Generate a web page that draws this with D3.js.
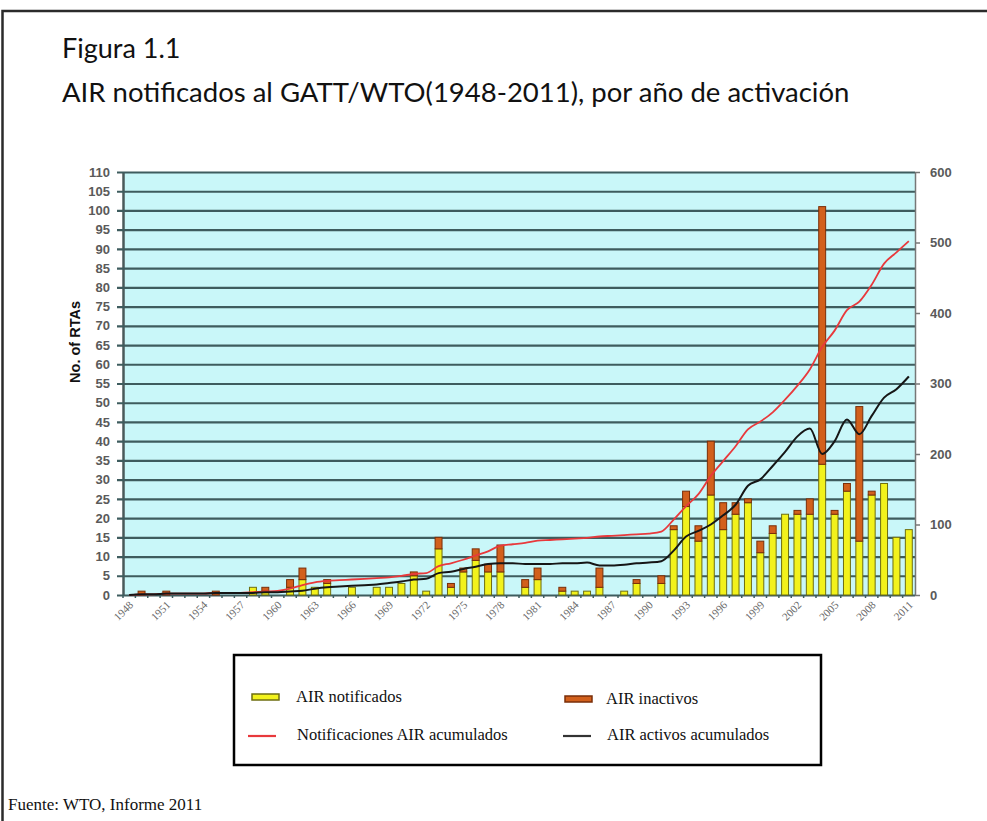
<!DOCTYPE html>
<html>
<head>
<meta charset="utf-8">
<script src="https://cdn.jsdelivr.net/npm/d3@7"></script>
<style>
    body { margin: 0; background: #fff; }
    svg { display: block; }
</style>
</head>
<body>
<div id="fig"></div>
<script>
// RTAs notified to GATT/WTO 1948-2011, bars + 2 cumulative lines

// categories (years of entry into force)
const years = [1948, 1949, 1950, 1951, 1952, 1953, 1954, 1955, 1956, 1957,
    1958, 1959, 1960, 1961, 1962, 1963, 1964, 1965, 1966, 1967,
    1968, 1969, 1970, 1971, 1972, 1973, 1974, 1975, 1976, 1977,
    1978, 1979, 1980, 1981, 1982, 1983, 1984, 1985, 1986, 1987,
    1988, 1989, 1990, 1991, 1992, 1993, 1994, 1995, 1996, 1997,
    1998, 1999, 2000, 2001, 2002, 2003, 2004, 2005, 2006, 2007,
    2008, 2009, 2010, 2011];

// yellow part of each bar (AIR notificados)
const notificados = [0, 0, 0, 0, 0, 0, 0, 0, 0, 0,
    2, 1, 0, 2, 4, 2, 3, 0, 2, 0,
    2, 2, 3, 5, 1, 12, 2, 6, 9, 6,
    6, 0, 2, 4, 0, 1, 1, 1, 2, 0,
    1, 3, 0, 3, 17, 23, 14, 26, 17, 21,
    24, 11, 16, 21, 21, 21, 34, 21, 27, 14,
    26, 29, 15, 17];

// orange part stacked on top (AIR inactivos)
const inactivos = [0, 1, 0, 1, 0, 0, 0, 1, 0, 0,
    0, 1, 0, 2, 3, 0, 1, 0, 0, 0,
    0, 0, 0, 1, 0, 3, 1, 1, 3, 2,
    7, 0, 2, 3, 0, 1, 0, 0, 5, 0,
    0, 1, 0, 2, 1, 4, 4, 14, 7, 3,
    1, 3, 2, 0, 1, 4, 67, 1, 2, 35,
    1, 0, 0, 0];

// red line, right axis (Notificaciones AIR acumulados)
const acumulados = [0, 1, 1, 2, 2, 2, 2, 3, 3, 3,
    4, 5, 6, 9, 14, 18, 20, 21, 22, 23,
    24, 25, 27, 30, 31, 41, 45, 50, 56, 62,
    70, 72, 74, 77, 78, 79, 80, 81, 83, 84,
    85, 86, 87, 90, 107, 126, 143, 169, 190, 211,
    235, 246, 259, 277, 297, 320, 352, 375, 404, 416,
    440, 470, 486, 502];

// black line, right axis (AIR activos acumulados)
const activos = [0, 1, 1, 2, 2, 2, 2, 3, 3, 3,
    3, 4, 4, 5, 6, 9, 11, 12, 13, 14,
    15, 17, 19, 22, 23, 31, 33, 37, 40, 44,
    45, 45, 44, 44, 44, 45, 45, 46, 42, 42,
    43, 45, 46, 48, 63, 83, 91, 100, 113, 128,
    155, 164, 183, 203, 225, 236, 200, 218, 249, 228,
    254, 280, 292, 310];

// tick labels
const xTickYears = [1948, 1951, 1954, 1957, 1960, 1963, 1966, 1969, 1972, 1975,
    1978, 1981, 1984, 1987, 1990, 1993, 1996, 1999, 2002, 2005, 2008, 2011];
const leftTicks = [0, 5, 10, 15, 20, 25, 30, 35, 40, 45, 50, 55,
    60, 65, 70, 75, 80, 85, 90, 95, 100, 105, 110];
const rightTicks = [0, 100, 200, 300, 400, 500, 600];

const legendItems = [
    { label: "AIR notificados", kind: "bar", color: "#f2f21c", edge: "#6e6e10" },
    { label: "AIR inactivos", kind: "bar", color: "#d2601c", edge: "#7a2e08" },
    { label: "Notificaciones AIR acumulados", kind: "line", color: "#e8393c" },
    { label: "AIR activos acumulados", kind: "line", color: "#333" }
];

let svgWidth = 987;
let svgHeight = 821;
// plot box (pixels)
let plotLeft = 123, plotRight = 915, plotTop = 172, plotBottom = 595;

let svg = d3.select("#fig")
    .append("svg")
    .attr("width", svgWidth)
    .attr("height", svgHeight);

// slide frame, only left + top edges show
svg.append("path")
    .attr("d", `M2.5,${svgHeight} L2.5,11 L${svgWidth},11`)
    .attr("fill", "none")
    .attr("stroke", "#2b2b2b")
    .attr("stroke-width", 2.5);

// titles (Calibri in the original, Lato is the closest we have)
svg.append("text")
    .attr("x", 62)
    .attr("y", 58)
    .style("font-family", "Lato, 'Open Sans', sans-serif")
    .style("font-size", "27px")
    .attr("fill", "#111")
    .text("Figura 1.1");
svg.append("text")
    .attr("x", 62)
    .attr("y", 102)
    .style("font-family", "Lato, 'Open Sans', sans-serif")
    .style("font-size", "27.5px")
    .attr("fill", "#111")
    .text("AIR notificados al GATT/WTO(1948-2011), por año de activación");

// scales
let x = d3.scaleBand()
    .domain(years)
    .range([plotLeft, plotRight])
    .paddingInner(0.44)
    .paddingOuter(0.22);
let yLeft = d3.scaleLinear().domain([0, 110]).range([plotBottom, plotTop]);
let yRight = d3.scaleLinear().domain([0, 600]).range([plotBottom, plotTop]);
let bw = x.bandwidth();
let cx = (yr) => x(yr) + bw / 2;

// cyan background
svg.append("rect")
    .attr("x", plotLeft)
    .attr("y", plotTop)
    .attr("width", plotRight - plotLeft)
    .attr("height", plotBottom - plotTop)
    .attr("fill", "#c9f7f9");

// left axis with the ticks stretched into gridlines
let leftAxis = d3.axisLeft(yLeft)
    .tickValues(leftTicks)
    .tickSizeInner(-(plotRight - plotLeft))
    .tickSizeOuter(0)
    .tickPadding(13);
let gLeft = svg.append("g")
    .attr("transform", `translate(${plotLeft},0)`)
    .call(leftAxis);
gLeft.select(".domain")
    .attr("stroke", "#4a5a5a")
    .attr("stroke-width", 2.5);
gLeft.selectAll(".tick line")
    .attr("x1", -6)
    .attr("stroke", "#3e5c5e")
    .attr("stroke-width", 2.2);
gLeft.selectAll(".tick text")
    .style("font-family", "'Liberation Sans', Arial, sans-serif")
    .style("font-size", "13px")
    .style("font-weight", "bold")
    .attr("fill", "#5a5a5a");

// right axis
let rightAxis = d3.axisRight(yRight)
    .tickValues(rightTicks)
    .tickSizeInner(5)
    .tickSizeOuter(0)
    .tickPadding(10);
let gRight = svg.append("g")
    .attr("transform", `translate(${plotRight},0)`)
    .call(rightAxis);
gRight.select(".domain").attr("stroke", "#777").attr("stroke-width", 1.5);
gRight.selectAll(".tick line").attr("stroke", "#777").attr("stroke-width", 1.5);
gRight.selectAll(".tick text")
    .style("font-family", "'Liberation Sans', Arial, sans-serif")
    .style("font-size", "13px")
    .style("font-weight", "bold")
    .attr("fill", "#5a5a5a");

// y title
svg.append("text")
    .attr("transform", `translate(80, 342) rotate(-90)`)
    .attr("text-anchor", "middle")
    .style("font-family", "'Liberation Sans', Arial, sans-serif")
    .style("font-size", "14.5px")
    .style("font-weight", "bold")
    .attr("fill", "#111")
    .text("No. of RTAs");

// x axis: little ticks between bars, labels every 3 years
let xAxis = d3.axisBottom(x)
    .tickValues(xTickYears)
    .tickSize(0)
    .tickPadding(6);
let gX = svg.append("g")
    .attr("transform", `translate(0,${plotBottom})`)
    .call(xAxis);
gX.select(".domain").remove();
gX.selectAll(".tick text")
    .attr("text-anchor", "end")
    .attr("x", 0)
    .attr("y", 0)
    .attr("dy", "0.35em")
    .attr("transform", "translate(2,8) rotate(-45)")
    .style("font-family", "'Liberation Serif', 'Times New Roman', serif")
    .style("font-size", "11px")
    .attr("fill", "#666");
svg.append("g")
    .selectAll("line")
    .data(years)
    .enter()
    .append("line")
    .attr("x1", (d) => x(d) - x.step() * 0.22)
    .attr("x2", (d) => x(d) - x.step() * 0.22)
    .attr("y1", plotBottom)
    .attr("y2", plotBottom + 3)
    .attr("stroke", "#3e5c5e")
    .attr("stroke-width", 1.5);

// bars - yellow first, orange stacked on top
let barData = years.map((yr, i) => ({ yr: yr, a: notificados[i], b: inactivos[i] }));

svg.append("g")
    .selectAll("rect")
    .data(barData.filter((d) => d.a > 0))
    .enter()
    .append("rect")
    .attr("x", (d) => x(d.yr))
    .attr("y", (d) => yLeft(d.a))
    .attr("width", bw)
    .attr("height", (d) => yLeft(0) - yLeft(d.a))
    .attr("fill", "#f2f21c")
    .attr("stroke", "#6e6e10")
    .attr("stroke-width", 1);

svg.append("g")
    .selectAll("rect")
    .data(barData.filter((d) => d.b > 0))
    .enter()
    .append("rect")
    .attr("x", (d) => x(d.yr))
    .attr("y", (d) => yLeft(d.a + d.b))
    .attr("width", bw)
    .attr("height", (d) => yLeft(d.a) - yLeft(d.a + d.b))
    .attr("fill", "#d2601c")
    .attr("stroke", "#7a2e08")
    .attr("stroke-width", 1);

// cumulative lines on the right scale
let cumLine = d3.line()
    .x((d, i) => cx(years[i]))
    .y((d) => yRight(d))
    .curve(d3.curveMonotoneX);

svg.append("path")
    .datum(acumulados)
    .attr("d", cumLine)
    .attr("fill", "none")
    .attr("stroke", "#e8393c")
    .attr("stroke-width", 1.8);

svg.append("path")
    .datum(activos)
    .attr("d", cumLine)
    .attr("fill", "none")
    .attr("stroke", "#161616")
    .attr("stroke-width", 2);

// legend box
svg.append("rect")
    .attr("x", 234)
    .attr("y", 655)
    .attr("width", 587)
    .attr("height", 110)
    .attr("fill", "#fff")
    .attr("stroke", "#000")
    .attr("stroke-width", 2.5);

let legendPos = [
    { sx: 252, tx: 296, ty: 702 },
    { sx: 565, tx: 606, ty: 704 },
    { sx: 248, tx: 297, ty: 740 },
    { sx: 563, tx: 607, ty: 740 }
];
let lg = svg.append("g")
    .selectAll("g")
    .data(legendItems)
    .enter()
    .append("g");
lg.each(function (d, i) {
    let g = d3.select(this);
    let p = legendPos[i];
    if (d.kind === "bar") {
        g.append("rect")
            .attr("x", p.sx)
            .attr("y", p.ty - 8)
            .attr("width", 27)
            .attr("height", 6)
            .attr("fill", d.color)
            .attr("stroke", d.edge)
            .attr("stroke-width", 1.5);
    } else {
        g.append("line")
            .attr("x1", p.sx)
            .attr("x2", p.sx + 28)
            .attr("y1", p.ty - 4)
            .attr("y2", p.ty - 4)
            .attr("stroke", d.color)
            .attr("stroke-width", 2.2);
    }
    g.append("text")
        .attr("x", p.tx)
        .attr("y", p.ty)
        .style("font-family", "'Liberation Serif', 'Times New Roman', serif")
        .style("font-size", "16.5px")
        .attr("fill", "#111")
        .text(d.label);
});

// source
svg.append("text")
    .attr("x", 8)
    .attr("y", 810)
    .style("font-family", "'Liberation Serif', 'Times New Roman', serif")
    .style("font-size", "17px")
    .attr("fill", "#111")
    .text("Fuente: WTO, Informe  2011");
</script>
</body>
</html>
